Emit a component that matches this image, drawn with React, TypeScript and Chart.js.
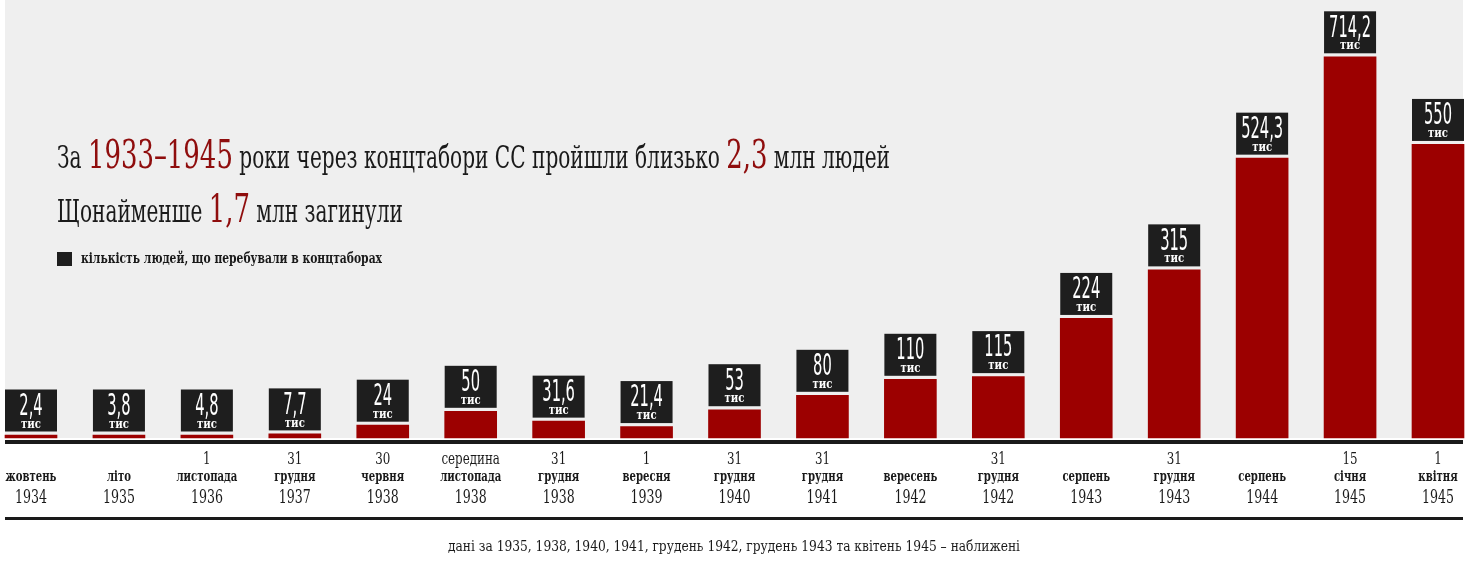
import { useEffect, useRef } from "react";
import { Chart, registerables } from "chart.js";

Chart.register(...registerables);

// ---------- data ----------
const labelTop = ["", "", "1", "31", "30", "середина", "31", "1", "31", "31", "", "31", "", "31", "", "15", "1"];
const labelMid = ["жовтень", "літо", "листопада", "грудня", "червня", "листопада", "грудня", "вересня", "грудня", "грудня", "вересень", "грудня", "серпень", "грудня", "серпень", "січня", "квітня"];
const labelYear = ["1934", "1935", "1936", "1937", "1938", "1938", "1938", "1939", "1940", "1941", "1942", "1942", "1943", "1943", "1944", "1945", "1945"];
const prisoners = [2.4, 3.8, 4.8, 7.7, 24, 50, 31.6, 21.4, 53, 80, 110, 115, 224, 315, 524.3, 714.2, 550];
const unitText = "тис";
const legendText = "кількість людей, що перебували в концтаборах";
const footnote = "дані за 1935, 1938, 1940, 1941, грудень 1942, грудень 1943 та квітень 1945 – наближені";
const titleLine1 = [
  { t: "За ", red: false },
  { t: "1933–1945", red: true },
  { t: " роки через концтабори СС пройшли близько ", red: false },
  { t: "2,3", red: true },
  { t: " млн людей", red: false },
];
const titleLine2 = [
  { t: "Щонайменше ", red: false },
  { t: "1,7", red: true },
  { t: " млн загинули", red: false },
];

// ---------- styles ----------
const W = 1468;
const H = 569;
const SERIF = '"DejaVu Serif Condensed", "DejaVu Serif", "Liberation Serif", serif';
const NARROW = '"Liberation Sans Narrow", "DejaVu Sans Condensed", "Liberation Sans", sans-serif';
const BAR_RED = "#9c0000";
const TEXT_RED = "#8f0d0d";
const DARK = "#1e1e1e";

function measure(ctx: CanvasRenderingContext2D, text: string, font: string) {
  ctx.save();
  ctx.font = font;
  const w = ctx.measureText(text).width;
  ctx.restore();
  return w;
}

function drawScaled(
  ctx: CanvasRenderingContext2D,
  text: string,
  x: number,
  y: number,
  font: string,
  color: string,
  sx: number,
  align: CanvasTextAlign = "center",
  baseline: CanvasTextBaseline = "middle"
) {
  ctx.save();
  ctx.translate(x, y);
  ctx.scale(sx, 1);
  ctx.font = font;
  ctx.fillStyle = color;
  ctx.textAlign = align;
  ctx.textBaseline = baseline;
  ctx.fillText(text, 0, 0);
  ctx.restore();
}

const fmt = (v: number) => String(v).replace(".", ",");

const decorPlugin = {
  id: "decor",
  beforeDraw(chart: any) {
    const ctx: CanvasRenderingContext2D = chart.ctx;
    ctx.save();
    ctx.fillStyle = "#ffffff";
    ctx.fillRect(0, 0, W, H);
    ctx.fillStyle = "#efefef";
    ctx.fillRect(5, 0, 1458, 438);
    ctx.restore();
  },
  afterDatasetsDraw(chart: any) {
    const ctx: CanvasRenderingContext2D = chart.ctx;
    const xs = chart.scales.x;
    const meta = chart.getDatasetMeta(0);

    // axis lines
    ctx.save();
    ctx.fillStyle = "#1a1a1a";
    ctx.fillRect(5, 440, 1458, 4);
    ctx.fillRect(5, 517, 1458, 3);
    ctx.restore();

    // value boxes
    const valFont = `30px ${NARROW}`;
    const valSx = 42 / measure(ctx, "714,2", valFont);
    const unitFont = `bold 12px ${SERIF}`;
    const unitSx = 20 / measure(ctx, unitText, unitFont);
    meta.data.forEach((bar: any, i: number) => {
      const { x, y, width } = bar.getProps(["x", "y", "width"], true);
      const boxBottom = y - 3.5;
      const boxTop = boxBottom - 42;
      ctx.save();
      ctx.fillStyle = DARK;
      ctx.fillRect(x - width / 2, boxTop, width, 42);
      ctx.restore();
      drawScaled(ctx, fmt(prisoners[i]), x, boxTop + 17.5, valFont, "#ffffff", valSx);
      drawScaled(ctx, unitText, x, boxTop + 35, unitFont, "#ffffff", unitSx);
    });

    // x labels
    const smallFont = `bold 14px ${SERIF}`;
    const smallSx = 61 / measure(ctx, "листопада", smallFont);
    const yearFont = `18px ${SERIF}`;
    const yearSx = 32 / measure(ctx, "1936", yearFont);
    labelMid.forEach((_, i) => {
      const x = xs.getPixelForValue(i);
      if (labelTop[i]) drawScaled(ctx, labelTop[i], x, 460, `17px ${SERIF}`, "#1a1a1a", yearSx);
      drawScaled(ctx, labelMid[i], x, 477, smallFont, "#1a1a1a", smallSx);
      drawScaled(ctx, labelYear[i], x, 498, yearFont, "#1a1a1a", yearSx);
    });

    // title
    const blackFont = `31px ${SERIF}`;
    const redFont = `40px ${SERIF}`;
    const runWidth = (runs: { t: string; red: boolean }[]) =>
      runs.reduce((s, r) => s + measure(ctx, r.t, r.red ? redFont : blackFont), 0);
    const titleSx = 833 / runWidth(titleLine1);
    const drawRuns = (runs: { t: string; red: boolean }[], x0: number, yb: number) => {
      let x = x0;
      runs.forEach((r) => {
        const f = r.red ? redFont : blackFont;
        drawScaled(ctx, r.t, x, yb, f, r.red ? TEXT_RED : "#1a1a1a", titleSx, "left", "alphabetic");
        x += measure(ctx, r.t, f) * titleSx;
      });
    };
    drawRuns(titleLine1, 57, 168);
    drawRuns(titleLine2, 57, 222);

    // legend
    ctx.save();
    ctx.fillStyle = DARK;
    ctx.fillRect(57, 252, 15, 14);
    ctx.restore();
    const legFont = `bold 14px ${SERIF}`;
    drawScaled(ctx, legendText, 81, 259, legFont, "#1a1a1a", 301 / measure(ctx, legendText, legFont), "left");

    // footnote
    const fnFont = `14px ${SERIF}`;
    drawScaled(ctx, footnote, 734, 547, fnFont, "#1a1a1a", 572 / measure(ctx, footnote, fnFont));
  },
};

export default function App() {
  const ref = useRef<HTMLCanvasElement | null>(null);
  useEffect(() => {
    if (!ref.current) return;
    const chart = new Chart(ref.current, {
      type: "bar",
      data: {
        labels: labelMid.map((m, i) => `${labelTop[i]} ${m} ${labelYear[i]}`.trim()),
        datasets: [
          {
            label: legendText,
            data: prisoners,
            backgroundColor: BAR_RED,
            borderWidth: 0,
            barThickness: 52,
            minBarLength: 3,
            clip: false as any,
          },
        ],
      },
      options: {
        responsive: false,
        animation: false,
        devicePixelRatio: 1,
        layout: { padding: { left: 31, right: 30, top: 11, bottom: 131 } },
        plugins: { legend: { display: false }, tooltip: { enabled: false }, title: { display: false } },
        scales: {
          x: { type: "category", offset: false, display: false, grid: { offset: false, display: false } },
          y: { min: 0, max: 800, display: false, grid: { display: false } },
        },
      },
      plugins: [decorPlugin],
    });
    return () => chart.destroy();
  }, []);
  return (
    <div style={{ position: "absolute", left: 0, top: 0, width: W, height: H }}>
      <canvas ref={ref} width={W} height={H} style={{ width: W, height: H, display: "block" }} />
    </div>
  );
}
